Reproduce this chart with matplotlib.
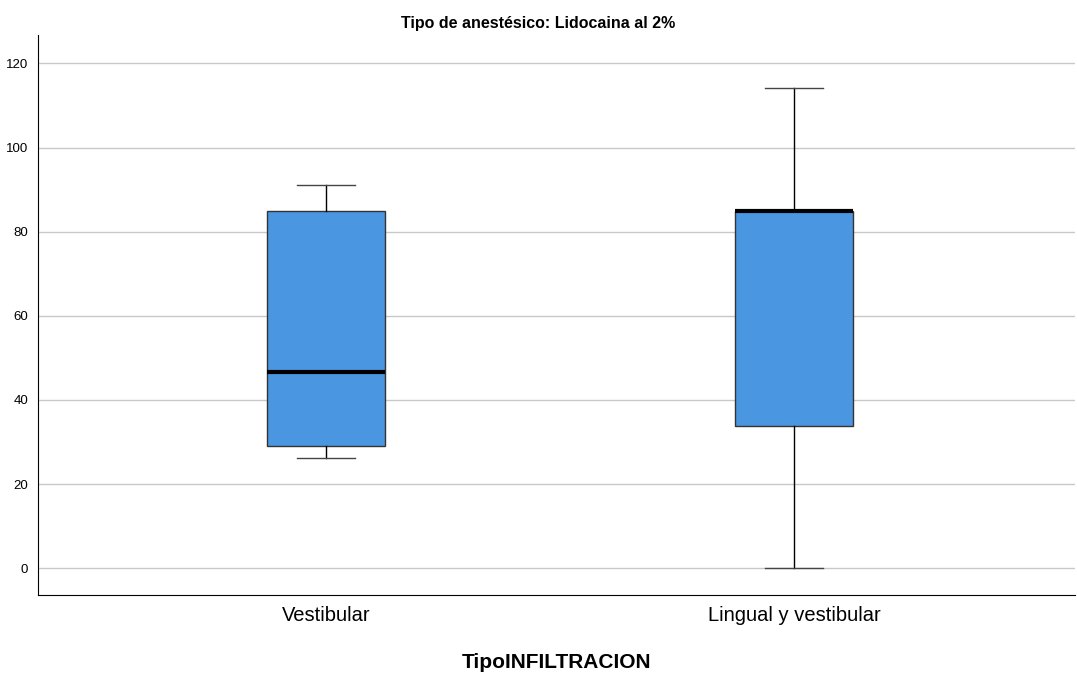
import matplotlib
matplotlib.use("Agg")
import matplotlib.pyplot as plt

plt.rcParams['font.family'] = ['Liberation Sans', 'DejaVu Sans']

categories = ['Vestibular', 'Lingual y vestibular']
whislo = [26.1, 0.0]
q1 = [29.0, 33.7]
med = [46.6, 85.0]
q3 = [84.8, 85.0]
whishi = [91.0, 114.1]
yticks = [0, 20, 40, 60, 80, 100, 120]

stats = []
for i in range(len(categories)):
    stats.append(dict(label=categories[i], whislo=whislo[i], q1=q1[i], med=med[i],
                      q3=q3[i], whishi=whishi[i], fliers=[]))

fig = plt.figure(figsize=(10.77, 6.77), dpi=100)
ax = fig.add_axes([0.0353, 0.121, 0.9627, 0.827])

ax.bxp(stats, positions=[0, 1], widths=0.252, patch_artist=True, showfliers=False,
       boxprops=dict(facecolor='#4a96e0', edgecolor='#333333', linewidth=1.0),
       medianprops=dict(color='black', linewidth=3),
       whiskerprops=dict(color='black', linewidth=1.0),
       capprops=dict(color='#444444', linewidth=1.0),
       capwidths=0.124, zorder=3)

ax.set_xlim(-0.615, 1.6)
ax.set_ylim(-6.4, 126.7)
ax.set_yticks(yticks)
ax.set_yticklabels([str(t) for t in yticks], fontsize=9.5)
ax.set_xticks([0, 1])
ax.set_xticklabels(categories, fontsize=14.5)
ax.tick_params(axis='both', length=0)
ax.tick_params(axis='x', pad=8)
ax.tick_params(axis='y', pad=7)
ax.yaxis.grid(True, color='#c8c8c8', linewidth=1.0)
ax.set_axisbelow(True)

for s in ['top', 'right']:
    ax.spines[s].set_visible(False)
ax.spines['left'].set_color('black')
ax.spines['bottom'].set_color('black')

ax.set_xlabel('TipoINFILTRACION', fontsize=15, fontweight='bold', labelpad=20)
fig.text(0.5, 0.966, 'Tipo de anestésico: Lidocaina al 2%', ha='center', va='center',
         fontsize=11.5, fontweight='bold')

fig.savefig('out.png', dpi=100)
